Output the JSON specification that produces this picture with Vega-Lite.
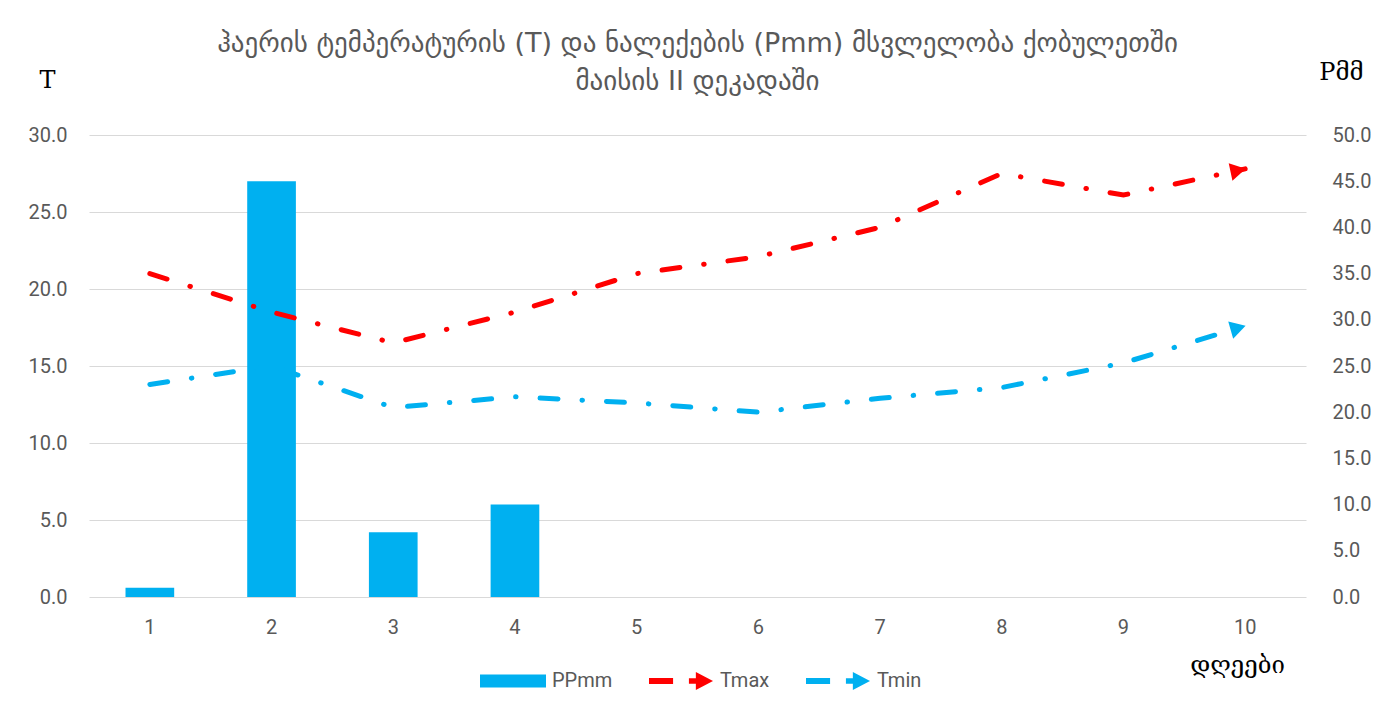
{
  "$schema": "https://vega.github.io/schema/vega-lite/v6.json",
  "autosize": {"type": "none"},
  "padding": {"left": 89, "top": 135, "right": 91, "bottom": 121},
  "width": 1217,
  "height": 462,
  "background": "white",
  "title": {
    "text": ["ჰაერის ტემპერატურის (T) და ნალექების (Pmm)  მსვლელობა ქობულეთში", "მაისის II  დეკადაში"],
    "font": "DejaVu Sans",
    "fontSize": 27,
    "fontWeight": "normal",
    "color": "#595959",
    "lineHeight": 38,
    "offset": -36,
    "anchor": "middle"
  },
  "data": {
    "values": [
      {"day": 1, "series": "PPmm", "value": 1.0},
      {"day": 2, "series": "PPmm", "value": 45.0},
      {"day": 3, "series": "PPmm", "value": 7.0},
      {"day": 4, "series": "PPmm", "value": 10.0},
      {"day": 1, "series": "Tmax", "value": 21.0},
      {"day": 2, "series": "Tmax", "value": 18.5},
      {"day": 3, "series": "Tmax", "value": 16.5},
      {"day": 4, "series": "Tmax", "value": 18.5},
      {"day": 5, "series": "Tmax", "value": 21.0},
      {"day": 6, "series": "Tmax", "value": 22.1},
      {"day": 7, "series": "Tmax", "value": 24.0},
      {"day": 8, "series": "Tmax", "value": 27.5},
      {"day": 9, "series": "Tmax", "value": 26.1},
      {"day": 10, "series": "Tmax", "value": 27.8},
      {"day": 1, "series": "Tmin", "value": 13.8},
      {"day": 2, "series": "Tmin", "value": 15.0},
      {"day": 3, "series": "Tmin", "value": 12.3},
      {"day": 4, "series": "Tmin", "value": 13.0},
      {"day": 5, "series": "Tmin", "value": 12.6},
      {"day": 6, "series": "Tmin", "value": 12.0},
      {"day": 7, "series": "Tmin", "value": 12.9},
      {"day": 8, "series": "Tmin", "value": 13.6},
      {"day": 9, "series": "Tmin", "value": 15.2},
      {"day": 10, "series": "Tmin", "value": 17.6}
    ]
  },
  "encoding": {
    "x": {
      "field": "day",
      "type": "ordinal",
      "scale": {"domain": [1, 2, 3, 4, 5, 6, 7, 8, 9, 10], "paddingInner": 0.6, "paddingOuter": 0.3},
      "axis": {
        "labelAngle": 0,
        "labelPadding": 20,
        "grid": false,
        "title": "დღეები",
        "titleX": 1148,
        "titleY": 68,
        "titleAlign": "center",
        "titleBaseline": "middle",
        "titleFont": "DejaVu Serif",
        "titleFontSize": 24,
        "titleFontWeight": "normal",
        "titleColor": "#000000"
      }
    }
  },
  "layer": [
    {
      "transform": [{"filter": "datum.series === 'PPmm'"}],
      "mark": {"type": "bar"},
      "encoding": {
        "y": {
          "field": "value",
          "type": "quantitative",
          "scale": {"domain": [0, 50], "nice": false, "zero": true},
          "axis": {
            "orient": "right",
            "values": [0, 5, 10, 15, 20, 25, 30, 35, 40, 45, 50],
            "format": ".1f",
            "grid": false,
            "labelPadding": 26,
            "title": "Pმმ",
            "titleAngle": 0,
            "titleX": 35,
            "titleY": -63,
            "titleAlign": "center",
            "titleBaseline": "middle",
            "titleFont": "DejaVu Serif",
            "titleFontSize": 24,
            "titleFontWeight": "normal",
            "titleColor": "#000000"
          }
        },
        "color": {
          "field": "series",
          "type": "nominal",
          "scale": {"domain": ["PPmm", "Tmax", "Tmin"], "range": ["#00B0F0", "#FF0000", "#00B0F0"]},
          "legend": {
            "orient": "none",
            "legendX": 391,
            "legendY": 513,
            "direction": "horizontal",
            "title": null,
            "padding": 0,
            "symbolSize": 4356,
            "symbolStrokeWidth": 0,
            "symbolOpacity": 1,
            "labelFont": "Roboto",
            "labelFontSize": 20,
            "labelColor": "#595959",
            "labelOffset": 6,
            "columnPadding": 35,
            "encode": {
              "symbols": {
                "update": {
                  "shape": {"signal": "datum.value === 'PPmm' ? 'M-1,-0.2H1V0.2H-1Z' : 'M-0.97,-0.09H-0.24V0.09H-0.97Z M0.24,-0.08H0.46V0.08H0.24Z M0.45,-0.27L0.97,0L0.45,0.27Z'"}
                }
              }
            }
          }
        }
      }
    },
    {
      "encoding": {
        "y": {
          "field": "value",
          "type": "quantitative",
          "scale": {"domain": [0, 30], "nice": false, "zero": true},
          "axis": {
            "orient": "left",
            "values": [0, 5, 10, 15, 20, 25, 30],
            "format": ".1f",
            "grid": true,
            "labelPadding": 22,
            "title": "T",
            "titleAngle": 0,
            "titleX": -42,
            "titleY": -55,
            "titleAlign": "center",
            "titleBaseline": "middle",
            "titleFont": "DejaVu Serif",
            "titleFontSize": 24,
            "titleFontWeight": "normal",
            "titleColor": "#000000"
          }
        }
      },
      "layer": [
        {
          "transform": [{"filter": "datum.series === 'Tmax'"}],
          "mark": {"type": "line", "color": "#FF0000", "strokeWidth": 5, "strokeCap": "round", "strokeDash": [18, 24, 0.5, 24]}
        },
        {
          "transform": [{"filter": "datum.series === 'Tmin'"}],
          "mark": {"type": "line", "color": "#00B0F0", "strokeWidth": 5, "strokeCap": "round", "strokeDash": [18, 24, 0.5, 24]}
        },
        {
          "transform": [{"filter": "datum.series === 'Tmax' && datum.day === 10"}],
          "mark": {"type": "point", "shape": "triangle-right", "filled": true, "opacity": 1, "size": 320, "angle": -12, "color": "#FF0000", "xOffset": -7, "yOffset": 1.5}
        },
        {
          "transform": [{"filter": "datum.series === 'Tmin' && datum.day === 10"}],
          "mark": {"type": "point", "shape": "triangle-right", "filled": true, "opacity": 1, "size": 320, "angle": -16, "color": "#00B0F0", "xOffset": -7, "yOffset": 2}
        }
      ]
    }
  ],
  "resolve": {"scale": {"y": "independent"}},
  "config": {
    "view": {"stroke": null},
    "axis": {
      "domain": false,
      "ticks": false,
      "gridColor": "#D9D9D9",
      "gridWidth": 1,
      "labelFont": "Roboto",
      "labelFontSize": 20,
      "labelColor": "#595959"
    }
  }
}
